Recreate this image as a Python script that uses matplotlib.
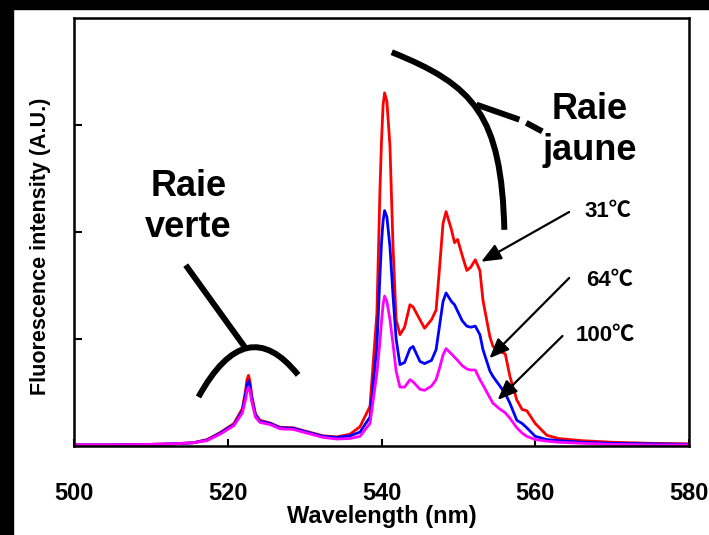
import matplotlib
matplotlib.use("Agg")
import matplotlib.pyplot as plt
from matplotlib.patches import PathPatch, Rectangle
from matplotlib.path import Path

plt.rcParams['font.family'] = ['Liberation Sans', 'Noto Sans CJK SC', 'DejaVu Sans']
plt.rcParams['font.weight'] = 'bold'

# emission spectra at three temperatures (arbitrary units)
wavelength = [500, 505, 510, 513, 515.5, 517.3, 519, 520.8, 521.9, 522.3, 522.5, 522.7,
              522.9, 523.1, 523.6, 524.2, 525.5, 526.8, 528.5, 530.3, 532.4, 534.2,
              535.9, 537.2, 538.5, 539.4, 539.8, 540.0, 540.2, 540.4, 540.7, 541.1,
              541.5, 541.9, 542.4, 543.0, 543.7, 544.1, 545.0, 545.6, 546.5, 547.1,
              547.6, 548.0, 548.4, 549.1, 549.5, 549.9, 550.5, 551.1, 551.6, 552.2,
              552.8, 553.2, 554.1, 554.5, 555.3, 556.1, 556.7, 557.6, 558.3, 558.9,
              560.0, 561.5, 563.0, 566.0, 570, 575, 580]
t31 = [0.01, 0.01, 0.015, 0.02, 0.03, 0.06, 0.125, 0.21, 0.35, 0.51, 0.62, 0.66,
       0.60, 0.48, 0.30, 0.24, 0.215, 0.175, 0.17, 0.135, 0.095, 0.085,
       0.11, 0.18, 0.37, 1.24, 2.40, 2.85, 3.18, 3.30, 3.22, 2.80,
       1.86, 1.18, 1.04, 1.11, 1.32, 1.30, 1.18, 1.10, 1.18, 1.27,
       1.71, 2.08, 2.19, 2.02, 1.90, 1.93, 1.78, 1.64, 1.67, 1.74,
       1.64, 1.36, 1.02, 0.93, 0.89, 0.86, 0.65, 0.43, 0.34, 0.33,
       0.21, 0.10, 0.07, 0.05, 0.035, 0.025, 0.02]
t64 = [0.01, 0.01, 0.015, 0.02, 0.03, 0.055, 0.12, 0.20, 0.33, 0.48, 0.57, 0.61,
       0.56, 0.45, 0.29, 0.23, 0.21, 0.17, 0.165, 0.13, 0.09, 0.08,
       0.095, 0.13, 0.27, 0.93, 1.60, 1.90, 2.10, 2.20, 2.14, 1.86,
       1.40, 1.00, 0.76, 0.78, 0.91, 0.93, 0.79, 0.77, 0.80, 0.90,
       1.15, 1.35, 1.43, 1.35, 1.32, 1.26, 1.17, 1.12, 1.11, 1.12,
       1.04, 0.90, 0.70, 0.65, 0.57, 0.49, 0.40, 0.24, 0.21, 0.17,
       0.09, 0.06, 0.05, 0.035, 0.025, 0.02, 0.015]
t100 = [0.01, 0.01, 0.015, 0.02, 0.03, 0.05, 0.11, 0.19, 0.31, 0.43, 0.51, 0.55,
        0.51, 0.42, 0.27, 0.22, 0.20, 0.16, 0.155, 0.12, 0.08, 0.065,
        0.07, 0.09, 0.21, 0.68, 0.98, 1.16, 1.32, 1.40, 1.35, 1.18,
        0.95, 0.70, 0.55, 0.55, 0.62, 0.60, 0.53, 0.52, 0.56, 0.62,
        0.74, 0.85, 0.91, 0.86, 0.83, 0.80, 0.75, 0.72, 0.71, 0.71,
        0.62, 0.57, 0.45, 0.40, 0.35, 0.31, 0.26, 0.17, 0.12, 0.09,
        0.06, 0.045, 0.035, 0.025, 0.015, 0.01, 0.01]
temps = ['31℃', '64℃', '100℃']
colors = ['#ff0000', '#0000ff', '#ff00ff']

fig = plt.figure(figsize=(7.09, 5.35), dpi=100)
# dark frame strips along the top and left edges
fig.patches.append(Rectangle((0, 1 - 9 / 535), 1, 9 / 535, transform=fig.transFigure,
                             color='black', zorder=0))
fig.patches.append(Rectangle((0, 0), 13 / 709, 1, transform=fig.transFigure,
                             color='black', zorder=0))

ax = fig.add_axes([0.1044, 0.1664, 0.8674, 0.80])
for y, c in zip([t31, t64, t100], colors):
    ax.plot(wavelength, y, color=c, lw=2.0, solid_joinstyle='round')

ax.set_xlim(500, 580)
ax.set_ylim(0, 4)
ax.set_xticks([500, 520, 540, 560, 580])
ax.set_yticks([1, 2, 3])
ax.set_yticklabels([])
ax.tick_params(direction='in', length=5, width=1.5, labelsize=17, pad=26)
ax.tick_params(axis='y', length=6)
for s in ax.spines.values():
    s.set_linewidth(1.8)
ax.set_xlabel('Wavelength (nm)', fontsize=17, fontweight='bold', labelpad=0)
ax.set_ylabel('Fluorescence intensity (A.U.)', fontsize=15.5, fontweight='bold')
ax.yaxis.set_label_coords(-0.038, 0.466)

# bracket marks for the two emission bands
verte = Path([(516.19, 0.458), (522.41, 1.271), (529.15, 0.664)],
             [Path.MOVETO, Path.CURVE3, Path.CURVE3])
jaune = Path([(541.33, 3.68), (552.09, 3.37), (555.59, 3.09), (555.98, 2.02)],
             [Path.MOVETO, Path.CURVE4, Path.CURVE4, Path.CURVE4])
for p in (verte, jaune):
    ax.add_patch(PathPatch(p, fill=False, lw=4.3, color='black', capstyle='butt'))
ax.plot([514.53, 522.30], [1.69, 0.916], color='black', lw=4.3, solid_capstyle='butt')
ax.plot([552.35, 557.93], [3.19, 3.05], color='black', lw=4.3, solid_capstyle='butt')
ax.plot([558.83, 560.91], [3.02, 2.94], color='black', lw=4.3, solid_capstyle='butt')

ax.text(514.88, 2.23, 'Raie\nverte', fontsize=26, fontweight='bold', ha='center',
        va='center', linespacing=1.22)
ax.text(567.13, 2.95, 'Raie\njaune', fontsize=26, fontweight='bold', ha='center',
        va='center', linespacing=1.22)

# temperature labels with arrows pointing to each curve
label_pos = [(569.45, 2.187), (569.71, 1.551), (569.07, 1.037)]
arrow_tail = [(564.41, 2.187), (564.41, 1.570), (563.54, 1.028)]
arrow_tip = [(552.96, 1.722), (554.04, 0.820), (555.11, 0.430)]
for t, lp, a0, a1 in zip(temps, label_pos, arrow_tail, arrow_tip):
    ax.text(lp[0], lp[1], t, fontsize=16, fontweight='bold', ha='center', va='center')
    ax.annotate('', xy=a1, xytext=a0,
                arrowprops=dict(arrowstyle='-|>,head_length=1.2,head_width=0.5',
                                color='black', lw=1.6, shrinkA=0, shrinkB=0))

fig.savefig('out.png', dpi=100)
